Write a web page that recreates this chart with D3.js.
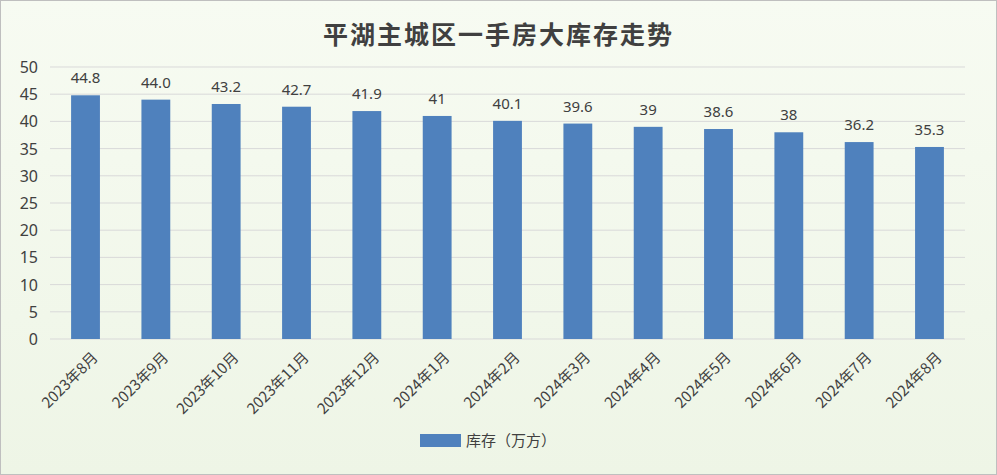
<!DOCTYPE html>
<html><head><meta charset="utf-8">
<script src="https://cdn.jsdelivr.net/npm/d3@7"></script>
<style>body{margin:0;}svg{display:block;}</style>
</head><body>
<script>
const months = ["2023年8月","2023年9月","2023年10月","2023年11月","2023年12月","2024年1月","2024年2月","2024年3月","2024年4月","2024年5月","2024年6月","2024年7月","2024年8月"];
const stock = [44.8,44.0,43.2,42.7,41.9,41,40.1,39.6,39,38.6,38,36.2,35.3];
const stockLabels = ["44.8","44.0","43.2","42.7","41.9","41","40.1","39.6","39","38.6","38","36.2","35.3"];
const yTicks = [0,5,10,15,20,25,30,35,40,45,50];

const W = 997, H = 475;
const svg = d3.select("body").append("svg").attr("width", W).attr("height", H);
const grad = svg.append("defs").append("linearGradient").attr("id","bg").attr("x1",0).attr("y1",0).attr("x2",0).attr("y2",1);
grad.append("stop").attr("offset","0%").attr("stop-color","#f7fbf2");
grad.append("stop").attr("offset","100%").attr("stop-color","#eef5e6");
svg.append("rect").attr("x",0.5).attr("y",0.5).attr("width",W-1).attr("height",H-1)
  .attr("fill","url(#bg)").attr("stroke","#bfbfbf");

svg.append("text").attr("x",W/2).attr("y",44).attr("text-anchor","middle")
  .style("font","bold 25px 'Noto Sans CJK SC', serif").attr("fill","#404040").attr("letter-spacing",2)
  .text("平湖主城区一手房大库存走势");

const x = d3.scaleBand().domain(months).range([50,965]).paddingInner(0.59).paddingOuter(0.3);
const y = d3.scaleLinear().domain([0,50]).range([339,67]);

svg.append("g").selectAll("line").data(yTicks).join("line")
  .attr("x1",50).attr("x2",965).attr("y1",d=>y(d)).attr("y2",d=>y(d))
  .attr("stroke","#d9d9d9");

svg.append("g").selectAll("text").data(yTicks).join("text")
  .attr("x",38).attr("y",d=>y(d)+6).attr("text-anchor","end")
  .style("font","16px 'Noto Sans', sans-serif").attr("fill","#404040").text(d=>d);

svg.append("g").selectAll("rect").data(stock).join("rect")
  .attr("x",(d,i)=>x(months[i])).attr("width",x.bandwidth())
  .attr("y",d=>y(d)).attr("height",d=>y(0)-y(d)).attr("fill","#4f81bd");

svg.append("g").selectAll("text").data(stock).join("text")
  .attr("x",(d,i)=>x(months[i])+x.bandwidth()/2).attr("y",d=>y(d)-12)
  .attr("text-anchor","middle").style("font","15px 'Noto Sans', sans-serif").attr("fill","#404040")
  .text((d,i)=>stockLabels[i]);

svg.append("g").selectAll("text").data(months).join("text")
  .attr("transform",d=>`translate(${x(d)+x.bandwidth()/2+6},${y(0)+12}) rotate(-45)`)
  .attr("text-anchor","end").attr("dy","0.7em")
  .style("font","15px 'Noto Sans CJK SC', sans-serif").attr("fill","#404040").text(d=>d);

const lg = svg.append("g").attr("transform","translate(420,434)");
lg.append("rect").attr("width",41).attr("height",13).attr("fill","#4f81bd");
lg.append("text").attr("x",46).attr("y",12).style("font","15px 'Noto Sans CJK SC', sans-serif")
  .attr("fill","#404040").text("库存（万方）");
</script>
</body></html>
